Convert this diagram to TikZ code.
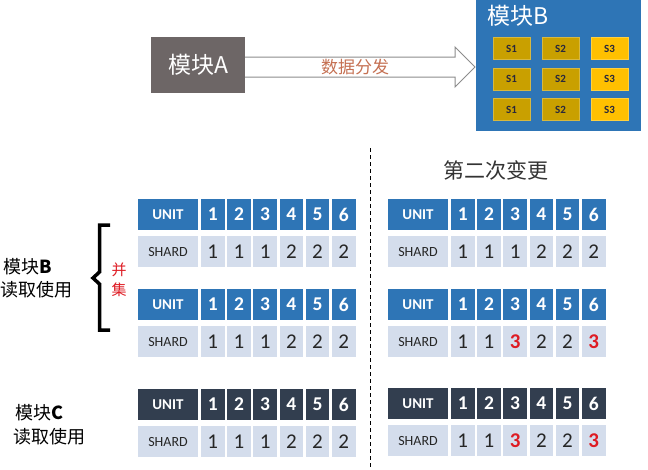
\documentclass[tikz,border=0pt]{standalone}
\usepackage{fontspec}
\setmainfont{Carlito}
\newfontfamily\cjk{Noto Sans CJK SC}

\definecolor{unitblue}{RGB}{46,117,182}
\definecolor{unitdark}{RGB}{50,62,79}
\definecolor{shardbg}{RGB}{212,221,236}
\definecolor{modgrey}{RGB}{109,102,102}
\definecolor{sgold}{RGB}{201,160,0}
\definecolor{syellow}{RGB}{255,192,0}
\definecolor{flowtxt}{RGB}{197,112,82}
\definecolor{chgred}{RGB}{222,28,36}

\newcommand\chg[1]{{\color{chgred}\bfseries #1}}

\tikzset{
    cell/.style={inner sep=0pt, minimum height=31pt},
    unitcell/.style={cell, minimum width=60pt, text=white, font=\bfseries\fontsize{15}{15}\selectfont},
    hdnum/.style={cell, minimum width=23.5pt, text=white, font=\bfseries\fontsize{19.5}{19.5}\selectfont},
    shardlbl/.style={cell, minimum width=60pt, fill=shardbg, text=black!85, font=\fontsize{14}{14}\selectfont},
    shardnum/.style={cell, minimum width=23.5pt, fill=shardbg, text=black!85, font=\fontsize{21}{21}\selectfont},
    modbox/.style={inner sep=0pt, text=white, font=\cjk\fontsize{23}{23}\selectfont},
    sbox/.style={inner sep=0pt, minimum width=37pt, minimum height=22pt, line width=1pt, text={rgb,255:red,40;green,40;blue,60}, font=\bfseries\fontsize{11}{11}\selectfont},
    sidelbl/.style={inner sep=0pt, anchor=west, font=\cjk\fontsize{18}{18}\selectfont},
    hollowarrow/.style={draw={rgb,255:red,140;green,140;blue,140}, fill=white, line width=1pt, line join=miter}
}

\begin{document}
\begin{tikzpicture}[x=1pt, y=-1pt]
    %\draw[help lines, color=gray!30, dashed] (0,0) grid[step=50] (648,469);
    \useasboundingbox (0,0) rectangle (648,469);
    % top: data flow from A into B
    \node[modbox, fill=modgrey, minimum width=94pt, minimum height=56pt] (modA) at (198,65) {模块A};
    \node[modbox, fill=unitblue, minimum width=165pt, minimum height=132pt] (modB) at (558.5,65) {};
    \node[modbox, anchor=west] (modBtitle) at (487,16) {模块B};
    \coordinate (tip) at (475,67);
    \draw[hollowarrow] ([yshift=8pt]modA.east) -- (455,57) -- (455,47) -- (tip) -- (455,87) -- (455,77) -- ([yshift=-12pt]modA.east);
    \node[text=flowtxt, font=\cjk\fontsize{17}{17}\selectfont] (flow) at (355,67) {数据分发};
    \foreach \r/\ry in {1/48.5,2/79,3/109.5}
        \foreach \c/\cx/\sc in {1/511.5/sgold,2/560.5/sgold,3/609.5/syellow}
            \node[sbox, fill=\sc, draw=\sc!75!white] (s\r\c) at (\cx,\ry) {S\c};
    % divider and title
    \draw[dash pattern=on 4pt off 3pt, line width=0.8pt] (370,148) -- (370,469);
    \node[text=black!80, font=\cjk\fontsize{21}{21}\selectfont] (title) at (496,170) {第二次变更};
    % tables
    \foreach \tb/\xo/\yo/\hd/\vals in {lA/138/199/unitblue/{1,1,1,2,2,2},
                                      lB/138/289/unitblue/{1,1,1,2,2,2},
                                      lC/138/389/unitdark/{1,1,1,2,2,2},
                                      rA/388/199/unitblue/{1,1,1,2,2,2},
                                      rB/388/289/unitblue/{1,1,\chg{3},2,2,\chg{3}},
                                      rC/388/388/unitdark/{1,1,\chg{3},2,2,\chg{3}}} {
        \node[unitcell, fill=\hd] (\tb-u) at (\xo+30,\yo+15.5) {UNIT};
        \node[shardlbl] (\tb-s) at (\xo+30,\yo+52.5) {SHARD};
        \foreach \v [count=\i] in \vals {
            \node[hdnum, fill=\hd] (\tb-u\i) at (\xo+48.55+\i*26.2,\yo+15.5) {\i};
            \node[shardnum] (\tb-s\i) at (\xo+48.55+\i*26.2,\yo+52.5) {\v};
        }
    }
    % readers
    \node[sidelbl] (readB1) at (3,267) {{\cjk 模块}\textbf{B}};
    \node[sidelbl] (readB2) at (0.5,290) {读取使用};
    \draw[line width=3.5pt] (110,225) -- (99.5,225) -- (99.5,272) -- (93,278) -- (99.5,284) -- (99.5,330) -- (110,330);
    \node[align=center, inner sep=0pt, text=chgred, font=\cjk\fontsize{15}{20}\selectfont] (union) at (119,280) {并\\集};
    \node[sidelbl] (readC1) at (15,413) {{\cjk 模块}\textbf{C}};
    \node[sidelbl] (readC2) at (13,437) {读取使用};
\end{tikzpicture}
\end{document}
